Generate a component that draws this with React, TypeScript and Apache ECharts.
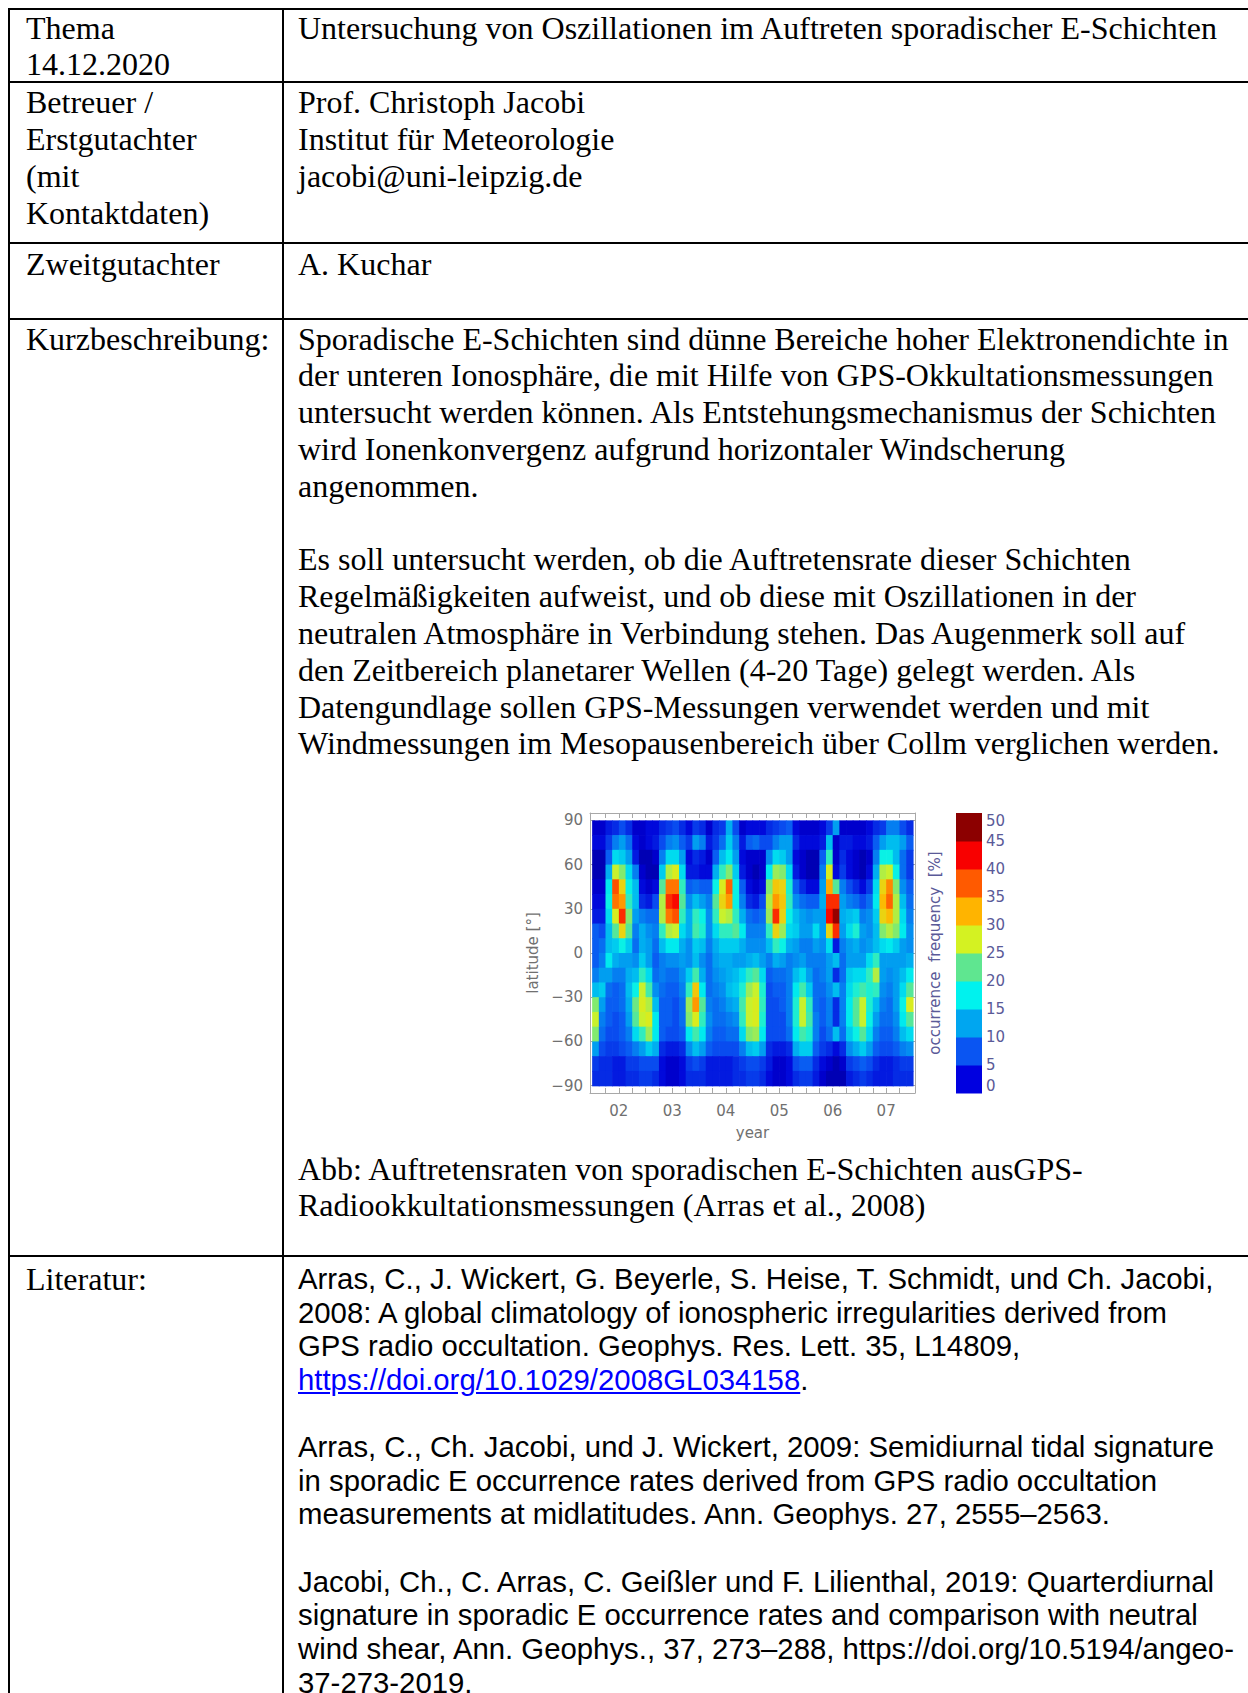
import React, { useEffect, useRef } from 'react';
import * as echarts from 'echarts';

// ---------- chart data ----------
const yearLabels = [2002, 2003, 2004, 2005, 2006, 2007];
const quarterTicks = [2001.75, 2002, 2002.25, 2002.5, 2002.75, 2003, 2003.25, 2003.5, 2003.75, 2004, 2004.25, 2004.5, 2004.75, 2005, 2005.25, 2005.5, 2005.75, 2006, 2006.25, 2006.5, 2006.75, 2007, 2007.25];
const latTicks = [-90, -60, -30, 0, 30, 60, 90];
// colour bar: one colour per 5 % class (0-5, 5-10, ... 45-50)
const levelColors = ['#0000e0', '#0a55f2', '#00a6f0', '#00f2ee', '#5fe690', '#d4f222', '#ffb400', '#ff5a00', '#f80000', '#8c0000'];
// continuous scale of the map: the class colours at the class centres, plus darker ends
const mapColors = ['#000060', '#0000d8', '#0a55f2', '#00a6f0', '#00f2ee', '#5fe690', '#d4f222', '#ffb400', '#ff5a00', '#f80000', '#8c0000', '#600000'];
const levelStep = 5;
const latBands = [85, 75, 65, 55, 45, 35, 25, 15, 5, -5, -15, -25, -35, -45, -55, -65, -75, -85];
const colStart = 2001.5;
const colWidth = 1 / 8;

// occurrence frequency [%], one array per latitude band, 48 columns (1.5-month bins from 2001.5)
const rowN85 = [2,2,4,5,7,5,2,2,3,3,5,6,7,5,3,6,5,2,5,6,13,7,2,3,3,3,5,6,7,8,3,2,2,2,3,6,12,2,2,2,2,3,5,6,10,10,7,5];
const rowN75 = [3,3,6,10,12,9,3,2,3,4,7,10,11,8,6,12,10,4,6,9,15,10,4,8,9,7,7,10,12,12,5,3,3,3,4,14,2,4,4,3,3,4,8,12,14,14,12,8];
const rowN65 = [1,1,8,16,15,12,4,1,1,2,10,16,16,12,3,5,4,2,8,14,17,12,3,2,2,2,11,16,15,12,3,2,1,1,8,20,2,5,3,2,1,2,10,18,18,14,9,6];
const rowN55 = [1,1,13,27,24,16,10,2,1,1,15,26,28,16,4,4,3,3,13,20,24,15,4,2,1,2,17,25,24,16,4,2,1,1,10,28,3,6,3,2,1,3,13,26,27,18,9,6];
const rowN45 = [2,2,17,38,30,18,14,3,2,3,22,36,36,20,8,9,8,8,18,28,37,18,8,3,2,3,24,31,30,19,8,5,3,3,12,33,22,10,7,5,3,6,16,30,35,24,11,8];
const rowN35 = [3,3,18,36,34,20,14,5,4,7,26,40,42,22,11,14,12,10,22,30,34,18,10,5,4,7,26,34,31,20,11,9,8,8,13,40,40,12,10,9,7,9,17,32,37,26,14,9];
const rowN25 = [4,4,16,28,40,24,12,10,9,9,26,36,38,20,13,20,18,11,20,27,26,20,13,9,8,9,25,40,30,18,14,12,11,12,12,42,47,13,14,15,10,11,15,30,32,26,16,10];
const rowN15 = [8,7,14,22,30,22,10,13,11,10,20,26,27,16,13,21,19,11,16,20,20,22,17,10,10,10,20,30,25,16,15,12,12,16,12,30,40,12,16,19,12,11,14,24,26,24,17,11];
const rowN5 = [8,9,14,15,18,15,9,13,12,9,14,17,17,13,11,15,14,10,13,15,15,15,13,11,11,11,14,20,18,13,12,10,10,12,11,16,4,10,12,13,11,12,14,16,17,15,12,11];
const rowS5 = [8,10,17,13,12,12,11,15,12,8,10,11,11,12,11,14,11,9,12,13,13,12,12,13,14,12,10,13,12,10,11,12,10,10,10,12,14,9,12,12,12,16,20,12,12,12,12,13];
const rowS15 = [10,12,12,10,10,13,14,20,16,9,10,9,9,11,15,21,13,9,11,12,13,14,16,20,22,16,8,9,9,10,14,16,12,9,10,12,5,9,15,16,16,20,26,12,11,12,14,17];
const rowS25 = [14,15,9,8,9,14,18,27,21,11,9,8,8,10,20,31,17,9,10,11,14,15,19,25,27,19,7,8,8,10,17,21,15,9,9,11,14,10,16,19,21,19,20,11,10,12,16,22];
const rowS35 = [24,12,8,8,9,13,23,28,26,14,8,8,7,9,25,34,22,10,9,10,12,13,21,27,28,20,7,7,8,10,19,27,20,9,8,10,5,10,17,22,27,19,14,10,9,12,18,28];
const rowS45 = [27,10,8,7,8,12,22,27,28,17,8,8,7,9,24,28,20,11,9,9,10,11,20,27,28,19,7,7,7,10,19,27,21,10,8,10,5,10,17,22,27,18,12,9,9,11,17,22];
const rowS55 = [24,9,7,7,8,10,16,20,25,17,8,7,7,8,17,21,17,10,8,8,9,9,16,24,25,17,7,7,7,9,17,21,19,10,7,9,14,9,15,18,22,16,10,8,8,10,14,16];
const rowS65 = [12,7,6,6,7,8,10,12,15,13,5,4,4,5,11,14,12,8,7,7,7,7,10,14,15,12,5,4,4,5,13,15,15,8,6,5,3,5,11,13,15,12,8,7,7,8,10,11];
const rowS75 = [6,5,5,4,4,6,6,7,7,7,3,2,2,3,6,7,6,4,4,4,4,5,6,7,7,6,4,2,2,3,7,8,8,5,3,2,1,2,6,7,8,7,5,4,4,5,6,6];
const rowS85 = [5,5,5,4,4,5,5,6,6,5,3,2,2,3,5,5,5,4,4,4,4,5,5,6,6,5,3,2,2,3,5,6,6,4,2,1,1,1,4,5,6,5,4,4,4,5,5,5];

const rows = [rowN85, rowN75, rowN65, rowN55, rowN45, rowN35, rowN25, rowN15, rowN5, rowS5, rowS15, rowS25, rowS35, rowS45, rowS55, rowS65, rowS75, rowS85];

// ---------- page text ----------
const serif = '"Liberation Serif", "Times New Roman", serif';
const sans = '"Liberation Sans", Arial, sans-serif';

const kurzLines = [
  'Sporadische E-Schichten sind dünne Bereiche hoher Elektronendichte in',
  'der unteren Ionosphäre, die mit Hilfe von GPS-Okkultationsmessungen',
  'untersucht werden können. Als Entstehungsmechanismus der Schichten',
  'wird Ionenkonvergenz aufgrund horizontaler Windscherung',
  'angenommen.',
  ' ',
  'Es soll untersucht werden, ob die Auftretensrate dieser Schichten',
  'Regelmäßigkeiten aufweist, und ob diese mit Oszillationen in der',
  'neutralen Atmosphäre in Verbindung stehen. Das Augenmerk soll auf',
  'den Zeitbereich planetarer Wellen (4-20 Tage) gelegt werden. Als',
  'Datengundlage sollen GPS-Messungen verwendet werden und mit',
  'Windmessungen im Mesopausenbereich über Collm verglichen werden.',
];
const captionLines = [
  'Abb: Auftretensraten von sporadischen E-Schichten ausGPS-',
  'Radiookkultationsmessungen (Arras et al., 2008)',
];

function Block(props: { x: number; y: number; lines: React.ReactNode[]; font: string; size: number; lh: number }) {
  const { x, y, lines, font, size, lh } = props;
  return (
    <div style={{ position: 'absolute', left: x, top: y, fontFamily: font, fontSize: size, lineHeight: lh + 'px', whiteSpace: 'pre', color: '#000' }}>
      {lines.map((l, i) => (
        <div key={i} style={{ height: lh }}>{l}</div>
      ))}
    </div>
  );
}

function Chart() {
  const ref = useRef<HTMLDivElement>(null);
  useEffect(() => {
    if (!ref.current) return;
    const chart = echarts.init(ref.current, undefined, { renderer: 'svg' });
    const heat: number[][] = [];
    rows.forEach((row, r) => {
      row.forEach((v, c) => {
        heat.push([colStart + (c + 0.5) * colWidth, latBands[r], v]);
      });
    });
    const bar = levelColors.map((_, i) => [0.5, i * levelStep, (i + 1) * levelStep, i]);
    const axisGray = '#a8a8a8';
    const labelGray = '#707070';
    const cbGray = '#5a5a98';
    const font = 'DejaVu Sans';
    const option: any = {
      animation: false,
      textStyle: { fontFamily: font },
      grid: [
        { left: 110, top: 43, width: 325, height: 280, show: false },
        { left: 476, top: 43, width: 26, height: 280, show: false },
      ],
      xAxis: [
        {
          gridIndex: 0, type: 'value', min: 2001.46, max: 2007.54, position: 'bottom',
          axisLine: { show: true, onZero: false, lineStyle: { color: axisGray, width: 1 } },
          axisTick: { show: true, inside: true, length: 5, customValues: quarterTicks, lineStyle: { color: axisGray } },
          axisLabel: { customValues: yearLabels, formatter: (v: number) => '0' + (Math.round(v) - 2000), color: labelGray, fontSize: 15, margin: 10, fontFamily: font },
          splitLine: { show: false },
          name: 'year', nameLocation: 'middle', nameGap: 32,
          nameTextStyle: { color: labelGray, fontSize: 15, fontFamily: font },
        },
        {
          gridIndex: 0, type: 'value', min: 2001.46, max: 2007.54, position: 'top',
          axisLine: { show: true, onZero: false, lineStyle: { color: axisGray, width: 1 } },
          axisTick: { show: true, inside: true, length: 5, customValues: quarterTicks, lineStyle: { color: axisGray } },
          axisLabel: { show: false },
          splitLine: { show: false },
        },
        { gridIndex: 1, type: 'value', min: 0, max: 1, show: false, splitLine: { show: false } },
      ],
      yAxis: [
        {
          gridIndex: 0, type: 'value', min: -95, max: 95, position: 'left',
          axisLine: { show: true, onZero: false, lineStyle: { color: axisGray, width: 1 } },
          axisTick: { show: true, inside: true, length: 5, customValues: latTicks, lineStyle: { color: axisGray } },
          axisLabel: { customValues: latTicks, formatter: (v: number) => (v < 0 ? '\u2212' + Math.abs(v) : String(v)), color: labelGray, fontSize: 15, margin: 7, fontFamily: font },
          splitLine: { show: false },
          name: 'latitude [°]', nameLocation: 'middle', nameGap: 47, nameRotate: 90,
          nameTextStyle: { color: labelGray, fontSize: 15, fontFamily: font },
        },
        {
          gridIndex: 0, type: 'value', min: -95, max: 95, position: 'right',
          axisLine: { show: true, onZero: false, lineStyle: { color: axisGray, width: 1 } },
          axisTick: { show: true, inside: true, length: 5, customValues: latTicks, lineStyle: { color: axisGray } },
          axisLabel: { show: false },
          splitLine: { show: false },
        },
        {
          gridIndex: 1, type: 'value', min: 0, max: 50, interval: 5, position: 'right',
          axisLine: { show: false }, axisTick: { show: false }, splitLine: { show: false },
          axisLabel: { color: cbGray, fontSize: 15, margin: 4, fontFamily: font, verticalAlignMinLabel: 'bottom', verticalAlignMaxLabel: 'top' },
        },
        {
          gridIndex: 1, type: 'value', min: 0, max: 50, position: 'left',
          axisLine: { show: false }, axisTick: { show: false }, axisLabel: { show: false }, splitLine: { show: false },
          name: 'occurrence  frequency  [%]', nameLocation: 'middle', nameGap: 14, nameRotate: 90,
          nameTextStyle: { color: cbGray, fontSize: 15, fontFamily: font },
        },
      ],
      visualMap: {
        type: 'continuous', show: false, seriesIndex: 0, dimension: 2,
        min: -2.5, max: 52.5, inRange: { color: mapColors },
      },
      series: [
        {
          type: 'custom', xAxisIndex: 0, yAxisIndex: 0, data: heat, encode: { x: 0, y: 1 }, silent: true,
          renderItem: (params: any, api: any) => {
            const x = api.value(0);
            const y = api.value(1);
            const p0 = api.coord([x - colWidth / 2, y + 5]);
            const p1 = api.coord([x + colWidth / 2, y - 5]);
            return {
              type: 'rect',
              shape: { x: p0[0], y: p0[1], width: p1[0] - p0[0] + 0.7, height: p1[1] - p0[1] + 0.7 },
              style: { fill: api.visual('color') },
            };
          },
        },
        {
          type: 'custom', xAxisIndex: 2, yAxisIndex: 2, data: bar, encode: { x: 0, y: [1, 2] }, silent: true,
          renderItem: (params: any, api: any) => {
            const lo = api.value(1);
            const hi = api.value(2);
            const idx = api.value(3);
            const p0 = api.coord([0, hi]);
            const p1 = api.coord([1, lo]);
            return {
              type: 'rect',
              shape: { x: p0[0], y: p0[1], width: p1[0] - p0[0], height: p1[1] - p0[1] + 0.5 },
              style: { fill: levelColors[idx] },
            };
          },
        },
      ],
    };
    chart.setOption(option);
    return () => chart.dispose();
  }, []);
  return <div ref={ref} style={{ position: 'absolute', left: 480, top: 770, width: 560, height: 390 }} />;
}

export default function App() {
  const hLines = [8.6, 82, 243, 318.5, 1256];
  const vLines = [8.6, 283];
  const serifLH = 36.8;
  const sansLH = 33.65;
  return (
    <div style={{ position: 'fixed', left: 0, top: 0, width: 1248, height: 1693, overflow: 'hidden', background: '#fff' }}>
      {hLines.map((y, i) => (
        <div key={'h' + i} style={{ position: 'absolute', left: 7.6, top: y - 1, width: 1300, height: 2, background: '#000' }} />
      ))}
      {vLines.map((x, i) => (
        <div key={'v' + i} style={{ position: 'absolute', left: x - 1, top: 7.6, width: 2, height: 1700, background: '#000' }} />
      ))}

      <Block x={26} y={9.6} lines={['Thema', '14.12.2020']} font={serif} size={32} lh={serifLH} />
      <Block x={298} y={9.6} lines={['Untersuchung von Oszillationen im Auftreten sporadischer E-Schichten']} font={serif} size={32} lh={serifLH} />

      <Block x={26} y={84.2} lines={['Betreuer /', 'Erstgutachter', '(mit', 'Kontaktdaten)']} font={serif} size={32} lh={serifLH} />
      <Block x={298} y={84.2} lines={['Prof. Christoph Jacobi', 'Institut für Meteorologie', 'jacobi@uni-leipzig.de']} font={serif} size={32} lh={serifLH} />

      <Block x={26} y={246} lines={['Zweitgutachter']} font={serif} size={32} lh={serifLH} />
      <Block x={298} y={246} lines={['A. Kuchar']} font={serif} size={32} lh={serifLH} />

      <Block x={26} y={320.6} lines={['Kurzbeschreibung:']} font={serif} size={32} lh={serifLH} />
      <Block x={298} y={320.6} lines={kurzLines} font={serif} size={32} lh={serifLH} />

      <Chart />

      <Block x={298} y={1150.6} lines={captionLines} font={serif} size={32} lh={serifLH} />

      <Block x={26} y={1260.6} lines={['Literatur:']} font={serif} size={32} lh={serifLH} />
      <Block
        x={298}
        y={1262}
        font={sans}
        size={29.33}
        lh={sansLH}
        lines={[
          'Arras, C., J. Wickert, G. Beyerle, S. Heise, T. Schmidt, und Ch. Jacobi,',
          '2008: A global climatology of ionospheric irregularities derived from',
          'GPS radio occultation. Geophys. Res. Lett. 35, L14809,',
          <span key="l"><span style={{ color: '#0000ff', textDecoration: 'underline' }}>https://doi.org/10.1029/2008GL034158</span>.</span>,
          ' ',
          'Arras, C., Ch. Jacobi, und J. Wickert, 2009: Semidiurnal tidal signature',
          'in sporadic E occurrence rates derived from GPS radio occultation',
          'measurements at midlatitudes. Ann. Geophys. 27, 2555–2563.',
          ' ',
          'Jacobi, Ch., C. Arras, C. Geißler und F. Lilienthal, 2019: Quarterdiurnal',
          'signature in sporadic E occurrence rates and comparison with neutral',
          'wind shear, Ann. Geophys., 37, 273–288, https://doi.org/10.5194/angeo-',
          '37-273-2019.',
        ]}
      />
    </div>
  );
}
